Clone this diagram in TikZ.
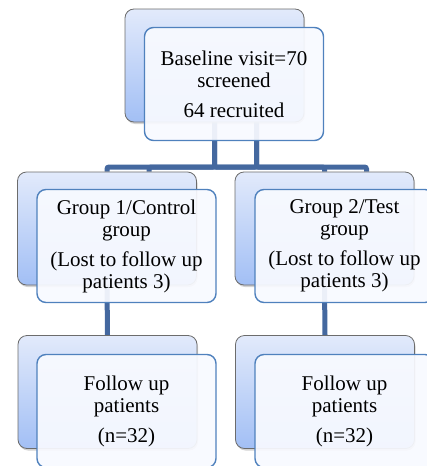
\documentclass[tikz,border=0pt]{standalone}
\usepackage{fontspec}
\setmainfont{Liberation Serif}
\usetikzlibrary{shadows,backgrounds}
\definecolor{linkblue}{HTML}{44689F}
\definecolor{edgeblue}{HTML}{4F81BD}
\definecolor{backtop}{HTML}{E2EAFB}
\definecolor{backbot}{HTML}{A2BFF5}
\definecolor{frontfill}{HTML}{F8FAFF}

\begin{document}
\begin{tikzpicture}[x=1pt,y=-1pt,
    back box/.style={rectangle,rounded corners=9pt,draw=gray!85!black,line width=0.8pt,
      top color=backtop,bottom color=backbot,minimum width=179pt,minimum height=113pt,
      inner sep=0pt,drop shadow={shadow xshift=1pt,shadow yshift=-2pt,opacity=0.35}},
    front box/.style={rectangle,rounded corners=9pt,draw=edgeblue,line width=1.4pt,
      fill=frontfill,fill opacity=0.93,text opacity=1,minimum width=179pt,minimum height=113pt,
      inner sep=0pt,align=center,font=\rmfamily\fontsize{21}{22}\selectfont},
    link/.style={draw=linkblue,line width=5pt,rounded corners=2pt}]
  \useasboundingbox (0,0) rectangle (427,466);
  \coordinate (bar) at (0,167);
  % back boxes
  \node[back box] (topB) at (214.5,65.5) {};
  \node[back box] (grpB1) at (107,228.5) {};
  \node[back box] (grpB2) at (324.5,228.5) {};
  \node[back box] (fupB1) at (107.5,392) {};
  \node[back box] (fupB2) at (325,392) {};
  % front boxes
  \node[front box] (topF) at (234,84) {Baseline visit=70\\screened\\[8pt] 64 recruited};
  \node[front box] (grpF1) at (126.5,246) {Group 1/Control\\group\\[8pt](Lost to follow up\\patients 3)};
  \node[front box] (grpF2) at (344.5,246) {Group 2/Test\\group\\[8pt](Lost to follow up\\patients 3)};
  \node[front box] (fupF1) at (126.5,411) {Follow up\\patients\\[8pt](n=32)};
  \node[front box] (fupF2) at (344.5,411) {Follow up\\patients\\[8pt](n=32)};
  % connectors, behind the boxes
  \begin{scope}[on background layer]
    \path[link] (topB.south) -- (topB.south |- bar) -| (grpB1.north);
    \path[link] (topB.south) -- (topB.south |- bar) -| (grpB2.north);
    \path[link] ([xshift=42pt]topB.south) -- ([xshift=42pt]topB.south |- bar) -| ([xshift=42pt]grpB1.north);
    \path[link] ([xshift=42pt]topB.south) -- ([xshift=42pt]topB.south |- bar) -| ([xshift=42pt]grpB2.north);
    \path[link] (grpB1.south) -- (fupB1.north);
    \path[link] (grpB2.south) -- (fupB2.north);
  \end{scope}
\end{tikzpicture}
\end{document}
